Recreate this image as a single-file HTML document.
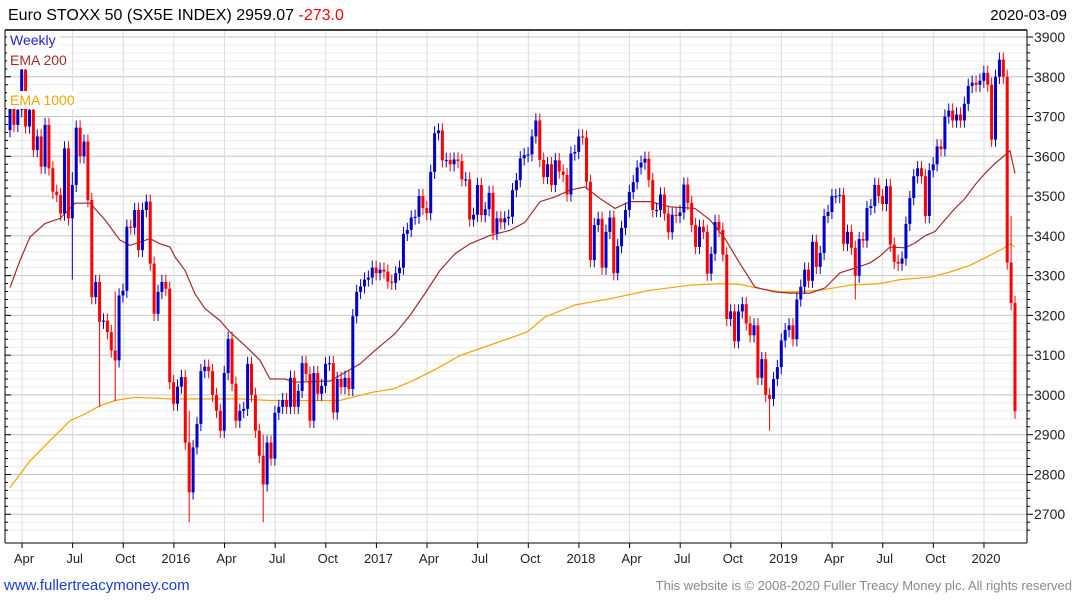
<!DOCTYPE html>
<html><head><meta charset="utf-8"><style>
body{margin:0;background:#fff;width:1075px;height:600px;overflow:hidden;font-family:"Liberation Sans",sans-serif}
svg{display:block}
</style></head><body>
<svg id="chart" width="1075" height="600" font-family="Liberation Sans, sans-serif"></svg>
<script>
const closes = [
3725,3679,3717,3818,3675,3717,3616,3650,3574,3679,3570,3511,3503,3456,3620,3444,3528,3672,3600,3637,3490,3246,3284,3184,3187,3158,3112,3087,3250,3262,3423,3421,3465,3364,3465,3486,3330,3204,3259,3284,3267,3032,2978,3021,3045,2880,2755,2868,2927,3060,3071,3060,3000,2960,2910,3055,3141,3028,2935,2960,2965,3078,3000,2910,2847,2775,2880,
2840,2955,2970,2987,2970,3043,2970,3010,3080,3053,2935,3055,3003,3023,3078,3080,2956,3040,3020,3043,3015,3198,3259,3273,3290,3295,3320,3306,3315,3310,3285,3282,3306,3320,3405,3415,3446,3448,3500,3470,3457,3561,3658,3665,3590,3591,3580,3592,3588,3542,3542,3441,3453,3528,3452,3467,3508,3407,3444,3434,3444,3448,3515,3540,
3595,3603,3605,3650,3690,3591,3548,3580,3528,3590,3562,3553,3504,3607,3611,3650,3647,3536,3339,3427,3443,3320,3410,3446,3306,3374,3420,3465,3510,3535,3572,3584,3594,3540,3465,3465,3504,3456,3409,3453,3450,3459,3529,3483,3427,3372,3423,3410,3305,3355,3435,3415,3353,3191,3210,3135,3210,3228,3180,3150,3175,3043,3090,3000,2990,3040,3070,3137,3163,
3175,3140,3240,3272,3315,3287,3385,3322,3357,3450,3460,3500,3500,3503,3380,3410,3370,3300,3392,3388,3470,3475,3528,3500,3480,3525,3378,3335,3330,3343,3430,3495,3550,3570,3550,3450,3565,3580,3625,3618,3700,3715,3690,3705,3690,3732,3777,3785,3780,3790,3810,3780,3642,3800,3843,3800,3333,3231,2959];
const firstOpen = 3666;
const wickPts = 18;
const spikeIdx = [16,23,27,46,65,195,217,257,258];
const spikeLow = [3290,2970,2985,2680,2680,2910,3240,3280,2940];
const spikeHigh = [3560,3300,3260,2960,2900,3010,3380,3450,3215];
const ema200X = [10,20,30,45,60,75,90,105,120,130,150,160,170,175,185,195,205,220,230,245,260,270,285,295,330,360,375,395,410,425,440,455,470,490,510,525,540,555,570,585,600,615,630,650,670,695,710,725,740,755,775,790,810,825,840,855,870,880,890,905,915,925,935,945,955,965,975,985,995,1005,1010,1015];
const ema200V = [3270,3338,3397,3431,3444,3482,3482,3440,3389,3376,3393,3380,3372,3347,3313,3254,3217,3187,3158,3124,3087,3040,3040,3032,3035,3078,3112,3154,3200,3255,3313,3355,3380,3401,3414,3434,3486,3498,3515,3523,3494,3469,3486,3486,3473,3469,3440,3393,3330,3271,3259,3256,3256,3269,3307,3319,3332,3349,3372,3370,3382,3400,3411,3440,3469,3494,3528,3557,3582,3603,3614,3557];
const ema1000X = [10,30,50,70,85,100,115,135,170,200,240,270,300,340,373,393,413,433,460,493,527,545,575,610,650,690,720,740,760,780,790,820,850,880,900,930,950,970,990,1003,1010,1015];
const ema1000V = [2767,2834,2885,2935,2952,2973,2986,2994,2990,2990,2990,2986,2986,2986,3007,3015,3036,3061,3099,3128,3158,3196,3226,3242,3263,3276,3280,3278,3267,3259,3259,3263,3276,3280,3290,3296,3309,3326,3351,3368,3380,3372];
const yTicks = [2700,2800,2900,3000,3100,3200,3300,3400,3500,3600,3700,3800,3900];
const xLabels = ["Apr","Jul","Oct","2016","Apr","Jul","Oct","2017","Apr","Jul","Oct","2018","Apr","Jul","Oct","2019","Apr","Jul","Oct","2020"];

const NS="http://www.w3.org/2000/svg";
const svg=document.getElementById('chart');
const L=5,R=1027,T=30,B=543;
const y=v=>37+(3900-v)*0.3977;
const N=closes.length;
const xi=i=>10+i*(1005/(N-1));
function mk(tag,attrs,parent){const e=document.createElementNS(NS,tag);for(const k in attrs)e.setAttribute(k,attrs[k]);(parent||svg).appendChild(e);return e;}

const grid=mk('g',{});


for(let v=2660;v<=3900;v+=20){
  if(v%100===0) continue;
  mk('line',{x1:L,x2:R,y1:y(v),y2:y(v),stroke:'#ececec','stroke-width':1},grid);
}
for(const v of yTicks){
  mk('line',{x1:L,x2:R,y1:y(v),y2:y(v),stroke:'#c4c4c4','stroke-width':1},grid);
}
xLabels.forEach((lab,q)=>{
  const x=22+q*50.63;
  mk('line',{x1:x,x2:x,y1:T,y2:B,stroke:'#dcdcdc','stroke-width':1},grid);
});

const ax=mk('g',{});


mk('line',{x1:L,x2:R,y1:T,y2:T,stroke:'#000','stroke-width':1.5},ax);
mk('line',{x1:L,x2:R,y1:B,y2:B,stroke:'#000','stroke-width':1},ax);
mk('line',{x1:R,x2:R,y1:T,y2:B,stroke:'#000','stroke-width':1},ax);
mk('line',{x1:L,x2:L,y1:T,y2:B,stroke:'#000','stroke-width':1},ax);
for(let v=2660;v<=3900;v+=20){
  const len=v%100===0?6:3;
  mk('line',{x1:R,x2:R+len,y1:y(v),y2:y(v),stroke:'#000'},ax);
  mk('line',{x1:L,x2:L+len,y1:y(v),y2:y(v),stroke:'#000'},ax);
}
for(const v of yTicks){
  const t=mk('text',{x:1034,y:y(v)+5,'font-size':14,fill:'#222'},ax);
  t.textContent=v;
  
  
}
xLabels.forEach((lab,q)=>{
  const x=22+q*50.63;
  mk('line',{x1:x,x2:x,y1:B,y2:B+5,stroke:'#000'},ax);
  const t=mk('text',{x:x+2,y:563,'font-size':13,fill:'#222','text-anchor':'middle'},ax);
  t.textContent=lab;
  
  
});

function line(xs,vs,color,name){
  const pts=xs.map((x,i)=>x+','+y(vs[i]).toFixed(1)).join(' ');
  const p=mk('polyline',{points:pts,fill:'none',stroke:color,'stroke-width':1.2});
  
  
}
line(ema1000X,ema1000V,'#f5a300','ema-1000-line');
line(ema200X,ema200V,'#a52a2a','ema-200-line');

const cg=mk('g',{});


for(let i=0;i<N;i++){
  const o=i===0?firstOpen:closes[i-1], c=closes[i];
  const up=c>=o, col=up?'#0000cc':'#ff0000';
  const x=xi(i);
  let hi=Math.max(o,c)+wickPts, lo=Math.min(o,c)-wickPts;
  const s=spikeIdx.indexOf(i);
  if(s>=0){hi=Math.max(hi,spikeHigh[s]);lo=Math.min(lo,spikeLow[s]);}
  const g=mk('g',{},cg);
  
  
  mk('line',{x1:x,x2:x,y1:y(hi),y2:y(lo),stroke:col,'stroke-width':1},g);
  const top=y(Math.max(o,c)), h=Math.max(1.2,y(Math.min(o,c))-top);
  mk('rect',{x:x-1.5,y:top,width:3,height:h,fill:col},g);
}

function legend(txt,yy,col,name){
  const w=txt.length*8.2+4;
  mk('rect',{x:7,y:yy-14,width:w,height:18,fill:'#fff'});
  const t=mk('text',{x:10,y:yy,'font-size':14,fill:col});
  t.textContent=txt;
  
  
}
legend('Weekly',45,'#2222cc','legend-weekly');
legend('EMA 200',65,'#a52a2a','legend-ema-200');
legend('EMA 1000',105,'#f5a300','legend-ema-1000');

const title=mk('text',{x:8,y:20,'font-size':16,fill:'#000'});


title.innerHTML='Euro STOXX 50 (SX5E INDEX) 2959.07 <tspan fill="#ff0000">-273.0</tspan>';
const dt=mk('text',{x:1067,y:20,'font-size':15,fill:'#000','text-anchor':'end'});
dt.textContent='2020-03-09';


const site=mk('text',{x:4,y:590,'font-size':15,fill:'#1a3fcc'});
site.textContent='www.fullertreacymoney.com';


const cr=mk('text',{x:1072,y:590,'font-size':13,fill:'#888','text-anchor':'end'});
cr.textContent='This website is © 2008-2020 Fuller Treacy Money plc. All rights reserved';


</script>
</body></html>
